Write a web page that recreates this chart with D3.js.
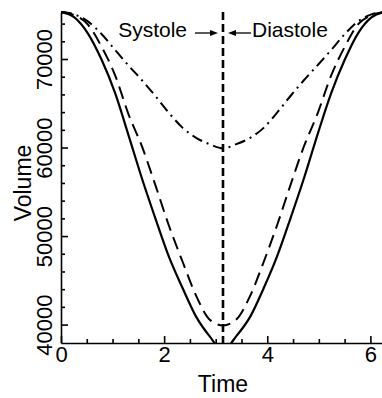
<!DOCTYPE html>
<html>
<head>
<meta charset="utf-8">
<script src="https://cdn.jsdelivr.net/npm/d3@7"></script>
<style>
  body { margin: 0; background: #fff; }
  text { font-family: "Liberation Sans", Arial, Helvetica, sans-serif; fill: #000; }
</style>
</head>
<body>
<div id="chart"></div>
<script>
// time samples over one cardiac cycle
var times = [0, 0.26, 0.52, 0.79, 1.05, 1.31, 1.57, 1.83, 2.09, 2.36, 2.62, 2.88, 3.14,
             3.40, 3.67, 3.93, 4.19, 4.45, 4.71, 4.97, 5.24, 5.50, 5.76, 6.02, 6.28];

// volume series
var volSolid = [75300, 74700, 72900, 69880, 66150, 61380, 56500, 52000, 47700, 44100, 40900, 38700, 37100,
                38700, 40900, 44100, 47700, 52000, 56500, 61380, 66150, 69880, 72900, 74700, 75300];
var volDashed = [75300, 74950, 73900, 71350, 68150, 63750, 60120, 55760, 51220, 47070, 43270, 40580, 39900,
                 40580, 43270, 47070, 51220, 55760, 60120, 63750, 68150, 71350, 73900, 74950, 75300];
var volDashDot = [75300, 75040, 74250, 72800, 71020, 69260, 67600, 65820, 63940, 62220, 61100, 60380, 59900,
                  60380, 61100, 62220, 63940, 65820, 67600, 69260, 71020, 72800, 74250, 75040, 75300];

var xMajor = [0, 2, 4, 6];
var xMinor = [0.5, 1, 1.5, 2.5, 3, 3.5, 4.5, 5, 5.5];
var yMajor = [40000, 50000, 60000, 70000];
var yMinor = [42000, 44000, 46000, 48000, 52000, 54000, 56000, 58000, 62000, 64000, 66000, 68000, 72000, 74000];
var valveTime = 3.1416;

var W = 382, H = 398;

var svg = d3.select("#chart")
  .append("svg")
  .attr("width", W)
  .attr("height", H)
  .style("display", "block");

var x = d3.scaleLinear().domain([0, 6.2832]).range([61, 385]);
var y = d3.scaleLinear().domain([37920, 75310]).range([343, 12]);

// clip curves to the plot area
svg.append("clipPath").attr("id", "plotclip")
  .append("rect")
  .attr("x", x(0)).attr("y", 0)
  .attr("width", x(6.2832) - x(0)).attr("height", y(37920));

// minor ticks
svg.append("g")
  .attr("transform", "translate(0," + y(37920) + ")")
  .call(d3.axisBottom(x).tickValues(xMinor).tickSize(-4).tickFormat(""))
  .call(g => g.select(".domain").remove());
svg.append("g")
  .attr("transform", "translate(" + x(0) + ",0)")
  .call(d3.axisLeft(y).tickValues(yMinor).tickSize(-4).tickFormat(""))
  .call(g => g.select(".domain").remove());

// X axis
var xAxis = svg.append("g")
  .attr("transform", "translate(0," + y(37920) + ")")
  .call(d3.axisBottom(x).tickValues(xMajor).tickSize(-7).tickPadding(3).tickSizeOuter(0).tickFormat(d3.format("d")));
xAxis.selectAll("text").style("font-size", "22px");

// Y axis, labels rotated
var yAxis = svg.append("g")
  .attr("transform", "translate(" + x(0) + ",0)")
  .call(d3.axisLeft(y).tickValues(yMajor).tickSize(-7).tickSizeOuter(0).tickFormat(d3.format("d")));
yAxis.selectAll("text")
  .attr("transform", "rotate(-90)")
  .attr("x", 0)
  .attr("y", -9)
  .attr("dy", 0)
  .style("text-anchor", "middle")
  .style("font-size", "22px");

svg.selectAll(".domain, .tick line").attr("stroke", "#000").attr("stroke-width", 1.6);

// curves
var line = d3.line()
  .x(function(d) { return x(d[0]); })
  .y(function(d) { return y(d[1]); })
  .curve(d3.curveMonotoneX);

var curves = svg.append("g").attr("clip-path", "url(#plotclip)");

curves.append("path")
  .datum(d3.zip(times, volDashDot))
  .attr("d", line)
  .attr("fill", "none")
  .attr("stroke", "#000")
  .attr("stroke-width", 2)
  .attr("stroke-dasharray", "11,5,2,5");

curves.append("path")
  .datum(d3.zip(times, volDashed))
  .attr("d", line)
  .attr("fill", "none")
  .attr("stroke", "#000")
  .attr("stroke-width", 2)
  .attr("stroke-dasharray", "13,7");

curves.append("path")
  .datum(d3.zip(times, volSolid))
  .attr("d", line)
  .attr("fill", "none")
  .attr("stroke", "#000")
  .attr("stroke-width", 2.2);

// valve closure line
svg.append("line")
  .attr("x1", x(valveTime)).attr("x2", x(valveTime))
  .attr("y1", y(75310)).attr("y2", y(37920))
  .attr("stroke", "#000")
  .attr("stroke-width", 2.6)
  .attr("stroke-dasharray", "8,4");

// Systole / Diastole annotation
var vx = x(valveTime), ay = 33;
svg.append("text")
  .attr("x", vx - 36).attr("y", 37)
  .attr("text-anchor", "end")
  .style("font-size", "21px")
  .text("Systole");
svg.append("text")
  .attr("x", vx + 29).attr("y", 37)
  .attr("text-anchor", "start")
  .style("font-size", "21px")
  .text("Diastole");

svg.append("line")
  .attr("x1", vx - 28).attr("x2", vx - 10)
  .attr("y1", ay).attr("y2", ay)
  .attr("stroke", "#000").attr("stroke-width", 1.3);
svg.append("path")
  .attr("d", "M" + (vx - 5) + "," + ay + "L" + (vx - 13) + "," + (ay - 3) + "L" + (vx - 13) + "," + (ay + 3) + "Z")
  .attr("fill", "#000");

svg.append("line")
  .attr("x1", vx + 28).attr("x2", vx + 10)
  .attr("y1", ay).attr("y2", ay)
  .attr("stroke", "#000").attr("stroke-width", 1.3);
svg.append("path")
  .attr("d", "M" + (vx + 5) + "," + ay + "L" + (vx + 13) + "," + (ay - 3) + "L" + (vx + 13) + "," + (ay + 3) + "Z")
  .attr("fill", "#000");

// axis titles
svg.append("text")
  .attr("x", x(valveTime))
  .attr("y", 392)
  .attr("text-anchor", "middle")
  .style("font-size", "23px")
  .text("Time");

svg.append("text")
  .attr("text-anchor", "middle")
  .attr("transform", "translate(31,183)rotate(-90)")
  .style("font-size", "23px")
  .text("Volume");
</script>
</body>
</html>
